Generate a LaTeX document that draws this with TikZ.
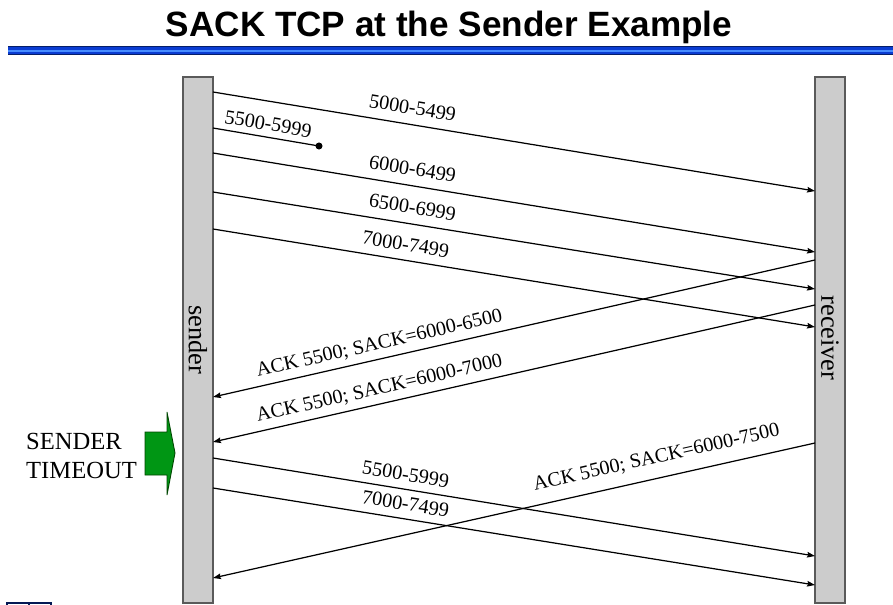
\documentclass[tikz,border=0pt]{standalone}
\usepackage{fontspec}
\setmainfont{Liberation Serif}
\newfontfamily\titlefont{Liberation Sans}
\usetikzlibrary{arrows.meta}

\definecolor{barfill}{RGB}{204,204,204}
\definecolor{bardraw}{RGB}{90,90,90}
\definecolor{ruleblue}{RGB}{10,60,210}
\definecolor{rulelight}{RGB}{70,140,255}
\definecolor{tmogreen}{RGB}{0,150,20}
\definecolor{tmodark}{RGB}{0,70,0}

\def\SndX{213}
\def\RcvX{815}

\begin{document}
\begin{tikzpicture}[x=0.02cm, y=-0.02cm,
    msg/.style={line width=0.7pt, -{Stealth[length=4.5pt, width=3.2pt, inset=0.6pt]}},
    lbl/.style={font=\fontsize{11.5}{13}\selectfont, sloped},
    bar/.style={fill=barfill, draw=bardraw, line width=0.6pt}]
  \useasboundingbox (0,0) rectangle (893,605);

  % title and rule
  \node[font=\titlefont\bfseries\fontsize{20}{24}\selectfont, anchor=base] (title) at (449,36)
    {SACK TCP at the Sender Example};
  \fill[ruleblue] (8,46) rectangle (893,55);
  \fill[rulelight] (8,49.5) rectangle (893,51.5);
  \fill[ruleblue!50!black] (8,46) rectangle (893,47);
  \fill[ruleblue!50!black] (8,54) rectangle (893,55);

  % time lines
  \draw[bar] (183,77) rectangle (213,603);
  \draw[bar] (815,77) rectangle (845,603);
  \node[rotate=-90, font=\fontsize{15}{18}\selectfont] (sndlbl) at (198,340) {sender};
  \node[rotate=-90, font=\fontsize{15}{18}\selectfont] (rcvlbl) at (830,338) {receiver};

  % end points on the bars
  \coordinate (s1) at (\SndX,92);   \coordinate (r1) at (\RcvX,191);
  \coordinate (s2) at (\SndX,128);  \coordinate (lost) at (319,146);
  \coordinate (s3) at (\SndX,153);  \coordinate (r3) at (\RcvX,252);
  \coordinate (s4) at (\SndX,192);  \coordinate (r4) at (\RcvX,289);
  \coordinate (s5) at (\SndX,229);  \coordinate (r5) at (\RcvX,327);
  \coordinate (ra1) at (\RcvX,260); \coordinate (sa1) at (\SndX,397);
  \coordinate (ra2) at (\RcvX,305); \coordinate (sa2) at (\SndX,442);
  \coordinate (s8) at (\SndX,458);  \coordinate (r8) at (\RcvX,556);
  \coordinate (s9) at (\SndX,488);  \coordinate (r9) at (\RcvX,585);
  \coordinate (ra3) at (\RcvX,443); \coordinate (sa3) at (\SndX,578);

  \draw[msg] (s1) -- (r1) node[lbl, pos=0.327, above=2pt] {5000-5499};
  \draw[line width=0.7pt] (s2) -- (lost) node[lbl, pos=0.5, above] {5500-5999};
  \fill (lost) circle (2pt);
  \draw[msg] (s3) -- (r3) node[lbl, pos=0.327, above=2pt] {6000-6499};
  \draw[msg] (s4) -- (r4) node[lbl, pos=0.327, above=2pt] {6500-6999};
  \draw[msg] (s5) -- (r5) node[lbl, pos=0.316, above=1.5pt] {7000-7499};

  \draw[msg] (ra1) -- (sa1) node[lbl, pos=0.718, above] {ACK 5500; SACK=6000-6500};
  \draw[msg] (ra2) -- (sa2) node[lbl, pos=0.718, above] {ACK 5500; SACK=6000-7000};

  \draw[msg] (s8) -- (r8) node[lbl, pos=0.316, above=1pt] {5500-5999};
  \draw[msg] (s9) -- (r9) node[lbl, pos=0.316, above=1pt] {7000-7499};
  \draw[msg] (ra3) -- (sa3) node[lbl, pos=0.256, above=3pt] {ACK 5500; SACK=6000-7500};

  % timeout
  \node[anchor=west, align=left, font=\fontsize{14}{17}\selectfont] (tmo) at (20,456)
    {SENDER\\TIMEOUT};
  \draw[fill=tmogreen, draw=tmodark, line width=0.5pt]
    (145,432) -- (167,432) -- (167,412) -- (175,453) -- (167,495) -- (167,475) -- (145,475) -- cycle;

  \draw[draw=ruleblue!40!black, line width=0.6pt] (7,612) |- (51,603) -- (51,612) (29,603) -- (29,612);
\end{tikzpicture}
\end{document}
